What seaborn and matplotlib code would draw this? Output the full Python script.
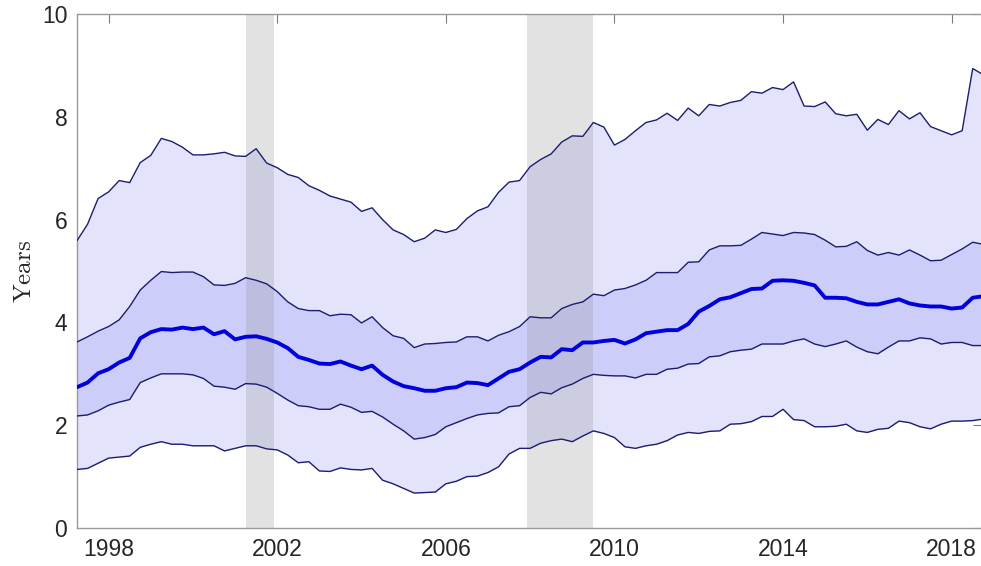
import matplotlib
matplotlib.use("Agg")
import matplotlib.pyplot as plt
import numpy as np
import pandas as pd
import seaborn as sns

# quarterly dates, 1997Q2 .. 2018Q4
quarters = 1997.25 + 0.25 * np.arange(87)

p90 = [5.59, 5.91, 6.41, 6.54, 6.76, 6.72, 7.11, 7.25, 7.58, 7.52,
       7.41, 7.26, 7.26, 7.28, 7.31, 7.24, 7.23, 7.38, 7.10, 7.01,
       6.88, 6.82, 6.66, 6.57, 6.46, 6.40, 6.34, 6.16, 6.23, 6.00,
       5.80, 5.71, 5.57, 5.64, 5.80, 5.75, 5.81, 6.02, 6.17, 6.25,
       6.53, 6.73, 6.76, 7.03, 7.17, 7.28, 7.51, 7.63, 7.62, 7.89,
       7.80, 7.45, 7.56, 7.73, 7.89, 7.94, 8.07, 7.93, 8.17, 8.02,
       8.24, 8.21, 8.28, 8.32, 8.49, 8.46, 8.57, 8.53, 8.68, 8.21,
       8.20, 8.29, 8.06, 8.02, 8.05, 7.74, 7.95, 7.85, 8.12, 7.96,
       8.08, 7.81, 7.73, 7.65, 7.73, 8.94, 8.82]

p75 = [3.62, 3.72, 3.83, 3.92, 4.05, 4.31, 4.63, 4.82, 4.99, 4.97,
       4.98, 4.98, 4.89, 4.73, 4.72, 4.76, 4.87, 4.82, 4.75, 4.60,
       4.40, 4.27, 4.23, 4.23, 4.13, 4.16, 4.15, 3.99, 4.11, 3.90,
       3.74, 3.69, 3.51, 3.58, 3.59, 3.61, 3.62, 3.72, 3.72, 3.64,
       3.75, 3.82, 3.92, 4.11, 4.09, 4.09, 4.27, 4.35, 4.40, 4.55,
       4.52, 4.63, 4.66, 4.73, 4.82, 4.97, 4.97, 4.97, 5.17, 5.18,
       5.41, 5.49, 5.49, 5.50, 5.62, 5.75, 5.72, 5.69, 5.75, 5.74,
       5.71, 5.60, 5.47, 5.48, 5.57, 5.40, 5.31, 5.36, 5.31, 5.41,
       5.31, 5.20, 5.21, 5.32, 5.43, 5.56, 5.52]

median = [2.74, 2.83, 3.01, 3.09, 3.22, 3.31, 3.69, 3.81, 3.87, 3.86,
          3.90, 3.87, 3.90, 3.77, 3.83, 3.67, 3.72, 3.73, 3.68, 3.61,
          3.50, 3.33, 3.27, 3.20, 3.19, 3.24, 3.16, 3.09, 3.16, 2.98,
          2.85, 2.76, 2.72, 2.67, 2.67, 2.72, 2.74, 2.83, 2.82, 2.78,
          2.91, 3.04, 3.09, 3.22, 3.33, 3.32, 3.48, 3.46, 3.61, 3.61,
          3.64, 3.66, 3.59, 3.67, 3.79, 3.82, 3.85, 3.85, 3.97, 4.21,
          4.32, 4.45, 4.49, 4.57, 4.65, 4.66, 4.81, 4.82, 4.81, 4.77,
          4.72, 4.48, 4.48, 4.47, 4.40, 4.35, 4.35, 4.40, 4.45, 4.37,
          4.33, 4.31, 4.31, 4.27, 4.29, 4.48, 4.51]

p25 = [2.18, 2.20, 2.28, 2.39, 2.45, 2.50, 2.83, 2.92, 3.00, 3.00,
       3.00, 2.98, 2.91, 2.76, 2.74, 2.70, 2.81, 2.80, 2.74, 2.62,
       2.49, 2.38, 2.36, 2.31, 2.31, 2.41, 2.35, 2.25, 2.27, 2.16,
       2.02, 1.89, 1.73, 1.76, 1.82, 1.97, 2.05, 2.13, 2.20, 2.23,
       2.24, 2.36, 2.38, 2.54, 2.64, 2.61, 2.73, 2.80, 2.91, 2.99,
       2.97, 2.96, 2.96, 2.92, 2.99, 2.99, 3.09, 3.11, 3.19, 3.20,
       3.33, 3.35, 3.43, 3.46, 3.48, 3.58, 3.58, 3.58, 3.64, 3.68,
       3.58, 3.53, 3.58, 3.64, 3.52, 3.43, 3.39, 3.52, 3.64, 3.64,
       3.70, 3.68, 3.58, 3.61, 3.61, 3.55, 3.55]

p10 = [1.14, 1.16, 1.26, 1.36, 1.38, 1.40, 1.57, 1.63, 1.68, 1.63,
       1.63, 1.60, 1.60, 1.60, 1.50, 1.55, 1.60, 1.60, 1.54, 1.52,
       1.42, 1.27, 1.29, 1.11, 1.10, 1.17, 1.14, 1.13, 1.16, 0.93,
       0.86, 0.77, 0.68, 0.69, 0.70, 0.86, 0.91, 1.00, 1.01, 1.08,
       1.19, 1.44, 1.55, 1.55, 1.65, 1.70, 1.73, 1.68, 1.79, 1.89,
       1.84, 1.76, 1.58, 1.55, 1.60, 1.63, 1.70, 1.81, 1.86, 1.84,
       1.88, 1.89, 2.02, 2.03, 2.07, 2.17, 2.17, 2.31, 2.11, 2.09,
       1.97, 1.97, 1.98, 2.02, 1.89, 1.86, 1.92, 1.94, 2.08, 2.05,
       1.97, 1.93, 2.02, 2.08, 2.08, 2.09, 2.12]

recessions = [(2001.25, 2001.92), (2007.92, 2009.5)]
xticks = [1998, 2002, 2006, 2010, 2014, 2018]
yticks = [0, 2, 4, 6, 8, 10]

df = pd.DataFrame({"date": quarters, "p90": p90, "p75": p75,
                   "median": median, "p25": p25, "p10": p10})

sns.set_style("white")
plt.rcParams["font.family"] = ["Liberation Sans", "DejaVu Sans"]
plt.rcParams["mathtext.fontset"] = "cm"

fig = plt.figure(figsize=(9.81, 5.66), dpi=100)
# right spine sits just past the image edge, as in the reference crop
ax = fig.add_axes([0.0785, 0.0671, 0.9225, 0.9081])

# bands
ax.fill_between(df["date"], df["p10"], df["p90"], color="#e3e3fc", lw=0, zorder=1)
ax.fill_between(df["date"], df["p25"], df["p75"], color="#cdcdfa", lw=0, zorder=1)

# recession shading
for start, end in recessions:
    ax.axvspan(start, end, color="#8f8f8f", alpha=0.25, lw=0, zorder=2)

for col in ["p90", "p75", "p25", "p10"]:
    sns.lineplot(data=df, x="date", y=col, ax=ax, color="#1c1c72",
                 linewidth=1.0, zorder=3)
sns.lineplot(data=df, x="date", y="median", ax=ax, color="#0000dc",
             linewidth=2.8, zorder=4)

ax.set_xlim(1997.25, 2018.72)
ax.set_ylim(0, 10)
ax.set_xticks(xticks)
ax.set_yticks(yticks)
ax.set_xlabel("")
ax.set_ylabel(r"$\mathrm{Years}$", fontsize=18, labelpad=4)
ax.tick_params(direction="in", length=6.5, width=0.8, color="#7a7a7a",
               labelsize=16.5, labelcolor="#262626", top=True, right=True,
               pad=7)
for sp in ax.spines.values():
    sp.set_visible(True)
    sp.set_color("#9a9a9a")
    sp.set_linewidth(1.0)

fig.savefig("out.png", dpi=100)
